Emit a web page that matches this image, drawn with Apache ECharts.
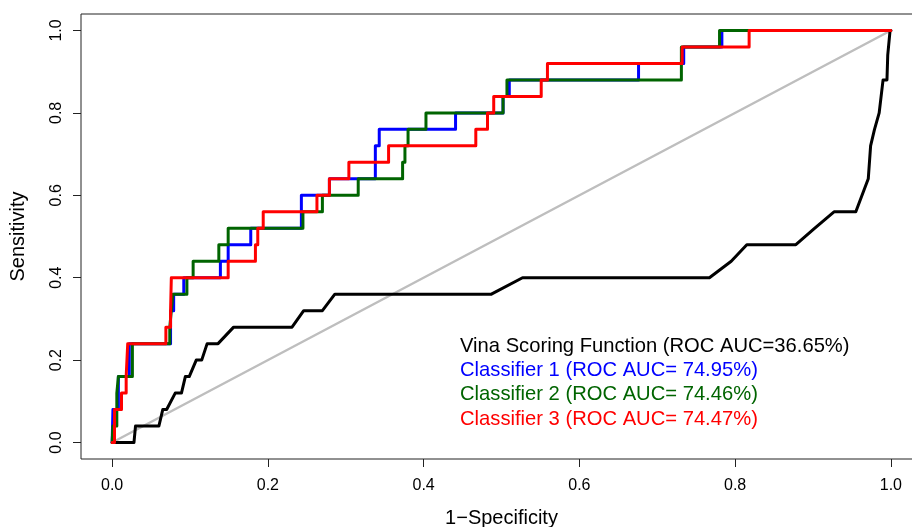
<!DOCTYPE html>
<html>
<head>
<meta charset="utf-8">
<script src="https://cdn.jsdelivr.net/npm/echarts@6/dist/echarts.min.js"></script>
<style>html,body{margin:0;padding:0;background:#fff}#c{width:912px;height:527px}</style>
</head>
<body>
<div id="c"></div>
<script>
// ---- data ----
var xTicks = [0, 0.2, 0.4, 0.6, 0.8, 1.0];
var yTicks = [0, 0.2, 0.4, 0.6, 0.8, 1.0];
var xTitle = '1\u2212Specificity';
var yTitle = 'Sensitivity';

var vinaName = 'Vina Scoring Function (ROC AUC=36.65%)';
var c1Name = 'Classifier 1 (ROC AUC= 74.95%)';
var c2Name = 'Classifier 2 (ROC AUC= 74.46%)';
var c3Name = 'Classifier 3 (ROC AUC= 74.47%)';

var chanceFpr = [0, 1];
var chanceTpr = [0, 1];

var vinaFpr = [0,0.028,0.030,0.060,0.065,0.070,0.081,0.089,0.094,0.099,0.108,0.115,0.122,0.136,0.156,0.231,0.246,0.270,0.286,0.487,0.527,0.767,0.795,0.815,0.878,0.902,0.927,0.955,0.971,0.974,0.979,0.985,0.990,0.995,0.996,0.999];
var vinaTpr = [0,0,0.04,0.04,0.08,0.08,0.12,0.12,0.16,0.16,0.20,0.20,0.24,0.24,0.28,0.28,0.32,0.32,0.36,0.36,0.40,0.40,0.44,0.48,0.48,0.52,0.56,0.56,0.64,0.72,0.76,0.80,0.88,0.88,0.94,1.0];

var c1Fpr = [0,0.001,0.001,0.008,0.008,0.022,0.022,0.075,0.075,0.079,0.079,0.092,0.092,0.139,0.139,0.149,0.149,0.178,0.178,0.243,0.243,0.279,0.279,0.338,0.338,0.343,0.343,0.441,0.441,0.502,0.502,0.510,0.510,0.676,0.676,0.734,0.734,0.783,0.783,1];
var c1Tpr = [0,0,0.08,0.08,0.16,0.16,0.24,0.24,0.32,0.32,0.36,0.36,0.40,0.40,0.44,0.44,0.48,0.48,0.52,0.52,0.60,0.60,0.64,0.64,0.72,0.72,0.76,0.76,0.80,0.80,0.84,0.84,0.88,0.88,0.92,0.92,0.96,0.96,1.0,1.0];

var c2Fpr = [0,0.001,0.001,0.006,0.006,0.008,0.008,0.026,0.026,0.074,0.074,0.076,0.076,0.078,0.078,0.096,0.096,0.104,0.104,0.137,0.137,0.149,0.149,0.245,0.245,0.270,0.270,0.316,0.316,0.373,0.373,0.376,0.376,0.380,0.380,0.403,0.403,0.502,0.502,0.507,0.507,0.731,0.731,0.780,0.780,1];
var c2Tpr = [0,0,0.04,0.04,0.12,0.12,0.16,0.16,0.24,0.24,0.28,0.28,0.32,0.32,0.36,0.36,0.40,0.40,0.44,0.44,0.48,0.48,0.52,0.52,0.56,0.56,0.60,0.60,0.64,0.64,0.68,0.68,0.72,0.72,0.76,0.76,0.80,0.80,0.84,0.84,0.88,0.88,0.96,0.96,1.0,1.0];

var c3Fpr = [0,0.003,0.003,0.012,0.012,0.018,0.018,0.020,0.020,0.069,0.069,0.075,0.075,0.076,0.076,0.149,0.149,0.184,0.184,0.187,0.187,0.194,0.194,0.263,0.263,0.279,0.279,0.304,0.304,0.355,0.355,0.467,0.467,0.482,0.482,0.490,0.490,0.551,0.551,0.559,0.559,0.732,0.732,0.818,0.818,1];
var c3Tpr = [0,0,0.08,0.08,0.12,0.12,0.16,0.16,0.24,0.24,0.28,0.28,0.32,0.32,0.40,0.40,0.44,0.44,0.48,0.48,0.52,0.52,0.56,0.56,0.60,0.60,0.64,0.64,0.68,0.68,0.72,0.72,0.76,0.76,0.80,0.80,0.84,0.84,0.88,0.88,0.92,0.92,0.96,0.96,1.0,1.0];

// ---- build chart ----
function pairs(xs, ys){ return xs.map(function(x,i){ return [x, ys[i]]; }); }
var FONT = "'Liberation Sans', Arial, Helvetica, sans-serif";

function lineSeries(name, xs, ys, color, width){
  return {
    name: name, type: 'line',
    data: pairs(xs, ys), showSymbol: false, symbol: 'none',
    lineStyle: { color: color, width: width, cap: 'round', join: 'round' },
    itemStyle: { color: color }, silent: true
  };
}

var chart = echarts.init(document.getElementById('c'), null, { renderer: 'canvas' });
chart.setOption({
  animation: false,
  backgroundColor: '#ffffff',
  grid: { left: 81, top: 14, width: 841, height: 445, show: true, borderColor: '#222', borderWidth: 1,
          backgroundColor: 'transparent', containLabel: false, outerBoundsMode: 'none' },
  xAxis: {
    type: 'value', min: -0.04, max: 1.04,
    axisLine: { show: false, onZero: false },
    axisTick: { show: true, length: 8, customValues: xTicks, lineStyle: { color: '#222', width: 1 } },
    axisLabel: { margin: 19, fontSize: 16, color: '#000', fontFamily: FONT, customValues: xTicks,
      formatter: function(v){ return v.toFixed(1); } },
    splitLine: { show: false },
    name: xTitle, nameLocation: 'middle', nameGap: 49,
    nameTextStyle: { fontSize: 20, color: '#000', fontFamily: FONT }
  },
  yAxis: {
    type: 'value', min: -0.04, max: 1.04,
    axisLine: { show: false, onZero: false },
    axisTick: { show: true, length: 8, customValues: yTicks, lineStyle: { color: '#222', width: 1 } },
    axisLabel: { margin: 16, fontSize: 16, color: '#000', rotate: 90, fontFamily: FONT, customValues: yTicks,
      formatter: function(v){ return v.toFixed(1); } },
    splitLine: { show: false },
    name: yTitle, nameLocation: 'middle', nameGap: 53,
    nameTextStyle: { fontSize: 20, color: '#000', fontFamily: FONT }
  },
  legend: {
    orient: 'vertical', left: 455, top: 336, padding: 0, itemGap: 4.4,
    icon: 'none', itemWidth: 0, itemHeight: 20, selectedMode: false,
    textStyle: { fontSize: 20.2, fontFamily: FONT, lineHeight: 20 },
    data: [
      { name: vinaName, textStyle: { color: '#000000' } },
      { name: c1Name, textStyle: { color: '#0000FF' } },
      { name: c2Name, textStyle: { color: '#006400' } },
      { name: c3Name, textStyle: { color: '#FF0000' } }
    ]
  },
  series: [
    lineSeries('chance', chanceFpr, chanceTpr, '#BEBEBE', 2.5),
    lineSeries(vinaName, vinaFpr, vinaTpr, '#000000', 3),
    lineSeries(c1Name, c1Fpr, c1Tpr, '#0000FF', 3),
    lineSeries(c2Name, c2Fpr, c2Tpr, '#006400', 3),
    lineSeries(c3Name, c3Fpr, c3Tpr, '#FF0000', 3)
  ]
});
</script>
</body>
</html>
